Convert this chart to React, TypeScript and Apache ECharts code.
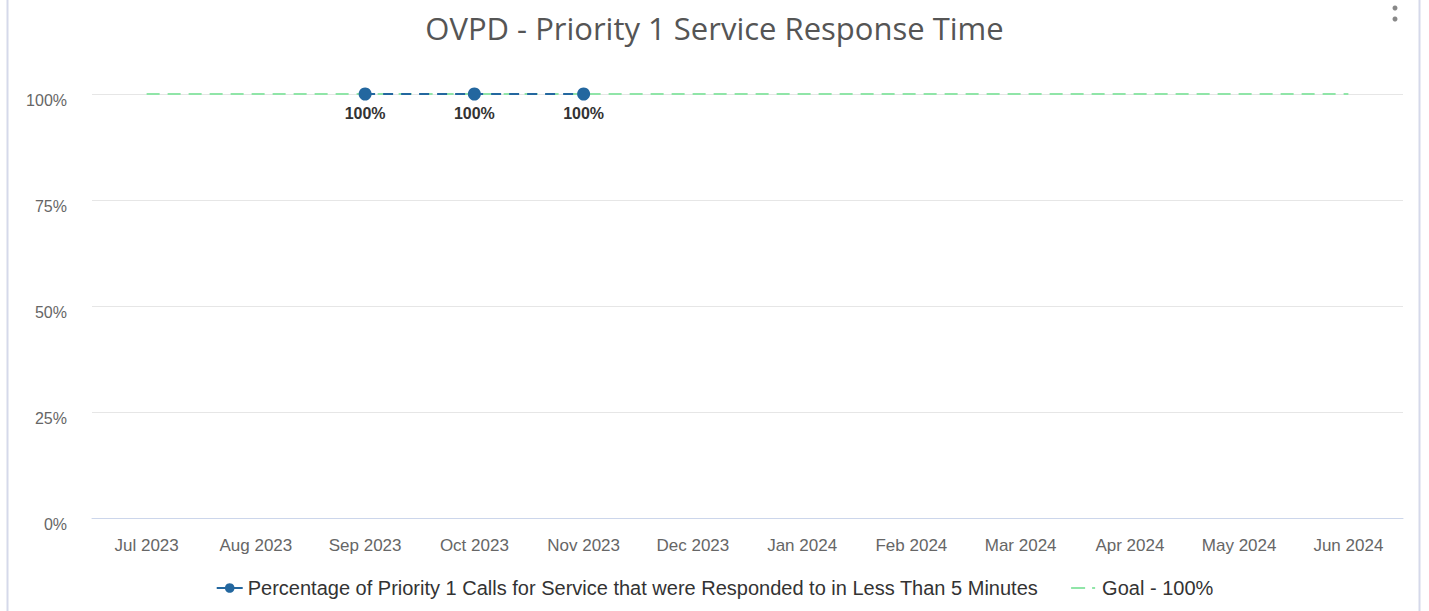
import React, { useEffect, useRef } from "react";
import * as echarts from "echarts";

const categories = ["Jul 2023", "Aug 2023", "Sep 2023", "Oct 2023", "Nov 2023", "Dec 2023", "Jan 2024", "Feb 2024", "Mar 2024", "Apr 2024", "May 2024", "Jun 2024"];
const responseValues: (number | null)[] = [null, null, 100, 100, 100, null, null, null, null, null, null, null];
const goalValues: number[] = [100, 100, 100, 100, 100, 100, 100, 100, 100, 100, 100, 100];
const yTicks = [0, 25, 50, 75, 100];

const seriesName = "Percentage of Priority 1 Calls for Service that were Responded to in Less Than 5 Minutes";
const goalName = "Goal - 100%";

export default function App() {
  const ref = useRef<HTMLDivElement>(null);
  useEffect(() => {
    if (!ref.current) return;
    const chart = echarts.init(ref.current, null, { renderer: "svg" });
    const font = "'Liberation Sans', Arial, sans-serif";
    chart.setOption({
      animation: false,
      backgroundColor: "#ffffff",
      title: {
        text: "OVPD - Priority 1 Service Response Time",
        left: "center",
        top: 7,
        textStyle: { fontFamily: "'Open Sans', sans-serif", fontSize: 31, fontWeight: "normal", color: "#555555" },
      },
      grid: { left: 92, right: 26, top: 94, bottom: 93 },
      legend: {
        bottom: 8,
        left: "center",
        itemGap: 32,
        itemWidth: 26,
        itemHeight: 12,
        textStyle: { fontFamily: font, fontSize: 20, color: "#333333" },
        data: [
          { name: seriesName, lineStyle: { type: "solid", width: 2 } },
          { name: goalName, itemStyle: { opacity: 0 }, lineStyle: { type: [14, 7, 3, 100], width: 2 } },
        ],
      },
      xAxis: {
        type: "category",
        data: categories,
        boundaryGap: true,
        axisLine: { lineStyle: { color: "#ccd6eb" } },
        axisTick: { show: false },
        axisLabel: { color: "#666666", fontSize: 17, fontFamily: font, margin: 19 },
      },
      yAxis: {
        type: "value",
        min: yTicks[0],
        max: yTicks[yTicks.length - 1],
        interval: 25,
        axisLabel: {
          color: "#666666",
          fontSize: 16,
          fontFamily: font,
          margin: 25,
          verticalAlign: "top",
          lineHeight: 12,
          formatter: (v: number) => v + "%",
        },
        splitLine: { lineStyle: { color: "#e6e6e6" } },
        axisLine: { show: false },
        axisTick: { show: false },
      },
      series: [
        {
          name: goalName,
          type: "line",
          data: goalValues,
          symbol: "none",
          z: 2,
          lineStyle: { color: "#90e5a8", width: 2, type: [13, 8] },
          itemStyle: { color: "#90e5a8" },
        },
        {
          name: seriesName,
          type: "line",
          data: responseValues,
          symbol: "circle",
          symbolSize: 13,
          z: 3,
          lineStyle: { color: "#23679f", width: 2, type: [10, 8] },
          itemStyle: { color: "#23679f" },
          label: {
            show: true,
            position: "bottom",
            distance: 5,
            formatter: (p: any) => p.value + "%",
            fontFamily: font,
            fontSize: 16,
            fontWeight: "bold",
            color: "#333333",
          },
        },
      ],
      graphic: [
        { type: "line", shape: { x1: 7.5, y1: 0, x2: 7.5, y2: 611 }, style: { stroke: "#d5d9ea", lineWidth: 2 } },
        { type: "line", shape: { x1: 1419.5, y1: 0, x2: 1419.5, y2: 611 }, style: { stroke: "#d5d9ea", lineWidth: 2 } },
        { type: "circle", shape: { cx: 1395, cy: 8, r: 2.5 }, style: { fill: "#888888" } },
        { type: "circle", shape: { cx: 1395, cy: 19, r: 2.5 }, style: { fill: "#888888" } },
      ],
    });
    return () => chart.dispose();
  }, []);
  return <div ref={ref} style={{ position: "absolute", left: 0, top: 0, width: 1429, height: 611 }} />;
}
